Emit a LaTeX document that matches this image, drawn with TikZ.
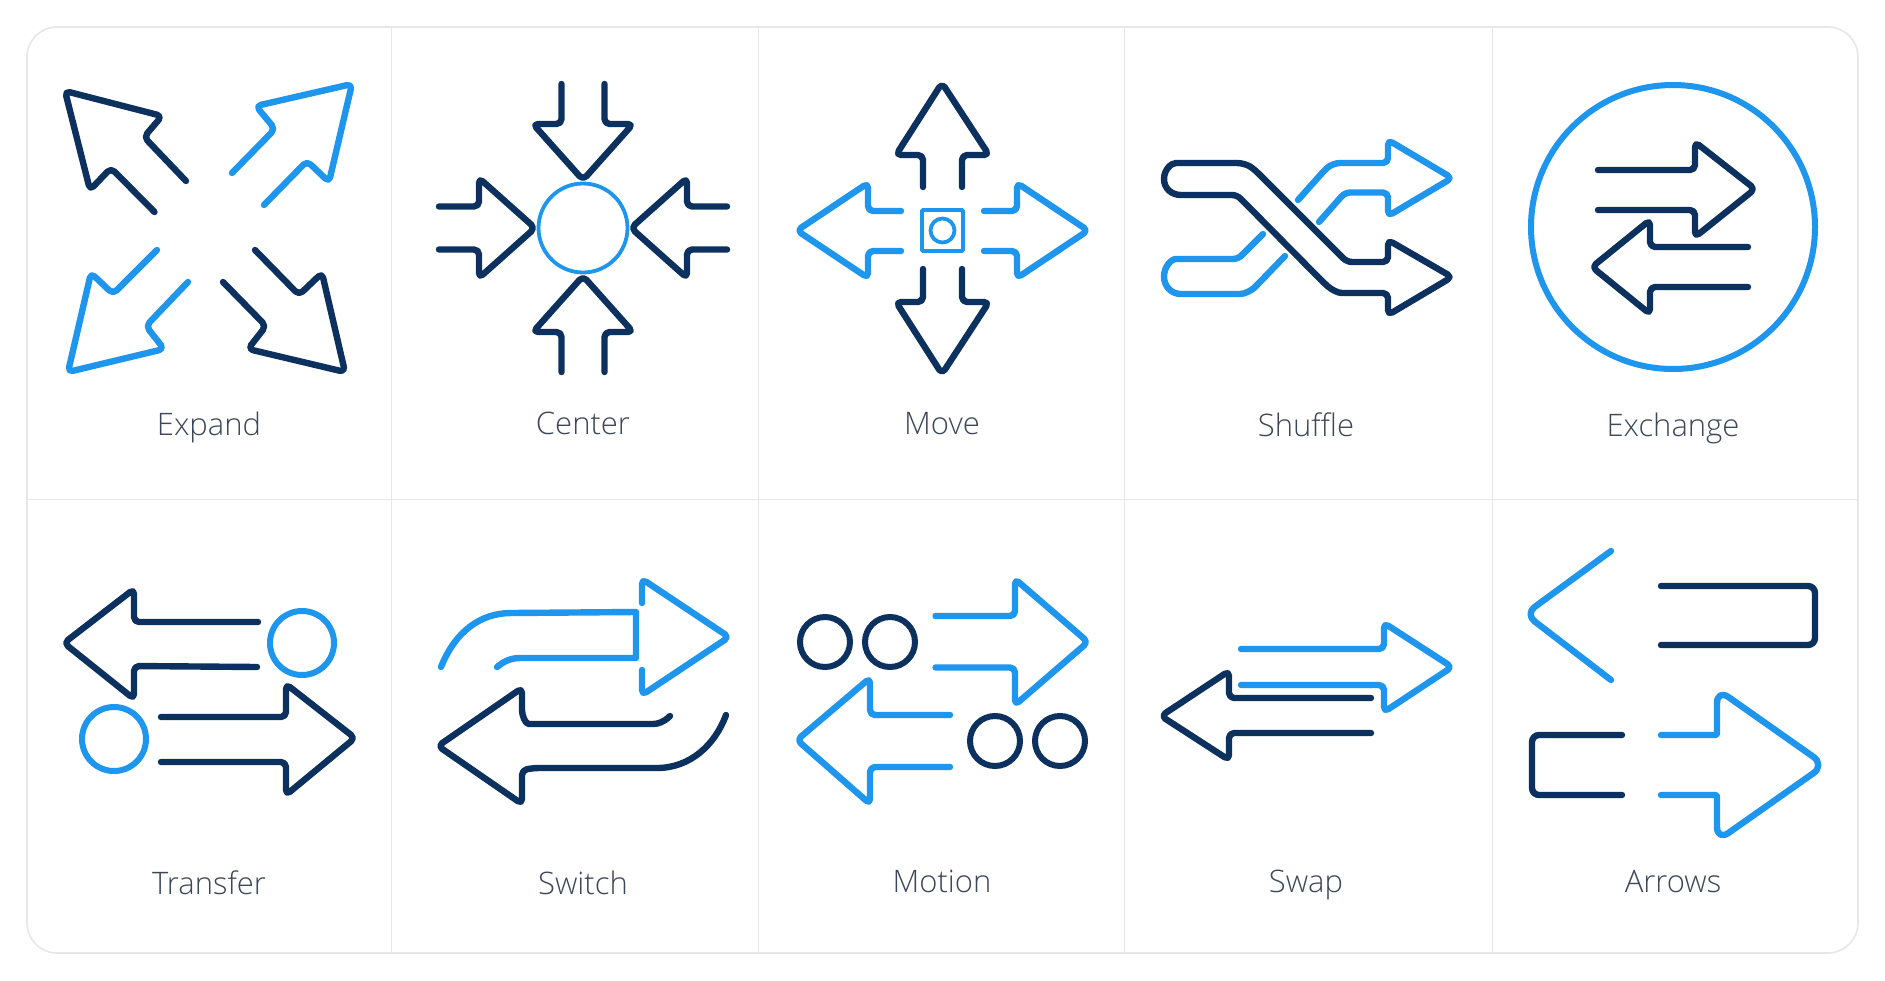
\documentclass[tikz,border=0pt]{standalone}
\usepackage{fontspec}
\setmainfont{Open Sans Light}
\definecolor{dk}{HTML}{0D315F}
\definecolor{lt}{HTML}{1F96EE}
\definecolor{rule}{HTML}{E6E7E9}
\definecolor{lab}{HTML}{3C4757}
\tikzset{
 icon/.style={line width=6.4pt,line cap=round,line join=round,rounded corners=5pt},
 dkl/.style={icon,draw=dk},
 ltl/.style={icon,draw=lt},
 thin line/.style={line width=3.8pt,draw=lt},
 lbl/.style={anchor=base,text=lab,font=\fontsize{31}{37}\selectfont,inner sep=0pt},
 frame/.style={draw=rule,line width=1.6pt,fill=white,rounded corners=30pt},
 divider/.style={draw=rule,line width=1pt}
}
\begin{document}
\begin{tikzpicture}[x=1pt,y=-1pt]
\useasboundingbox (0,0) rectangle (1885,980);
\fill[white] (0,0) rectangle (1885,980);
\draw[frame] (27,27) rectangle (1858,953);
\foreach \vx in {391,758,1124,1492} \draw[divider] (\vx,27) -- (\vx,953);
\draw[divider] (27,499) -- (1858,499);
% Expand
\draw[dkl] (186,181) -- (144,137) -- (162,116) -- (65,91) -- (90,190) -- (111,168) -- (154.5,212);
\draw[ltl] (232,173) -- (275,129) -- (256,106) -- (352,84) -- (329,182) -- (307,161) -- (264,205);
\draw[ltl] (157,250) -- (113,294) -- (91,273) -- (68,372) -- (164,349) -- (146,326) -- (188,282);
\draw[dkl] (255,250) -- (299,295) -- (322,273) -- (345,372) -- (248,349) -- (266,326) -- (223,282);
% Center
\draw[thin line] (583,228) circle[radius=44.5pt];
\foreach \a in {0,90,180,270}{
 \begin{scope}[shift={(583,228)},rotate=\a]
 \draw[dkl] (-21.5,-144) -- (-21.5,-104) -- (-50,-104) -- (0,-48) -- (50,-104) -- (21.5,-104) -- (21.5,-144);
 \end{scope}
}
% Move
\draw[dkl] (923,187) -- (923,155) -- (896,155) -- (942,83) -- (989,155) -- (962,155) -- (962,187);
\draw[dkl] (923,269) -- (923,302) -- (896,302) -- (942,374) -- (989,302) -- (962,302) -- (962,269);
\draw[ltl] (901,211) -- (868,211) -- (868,183) -- (797,230.5) -- (868,278) -- (868,251) -- (901,251);
\draw[ltl] (984,211) -- (1017,211) -- (1017,183) -- (1088,230.5) -- (1017,278) -- (1017,251) -- (984,251);
\draw[thin line,rounded corners=1pt] (922,210) rectangle (963,251);
\draw[thin line] (942.5,230.5) circle[radius=12pt];
% Shuffle
\draw[ltl] (1298,200) -- (1323,172) .. controls (1330,165) and (1336,163) .. (1345,163) -- (1388,163) -- (1388,140) -- (1452,178) -- (1388,216) -- (1388,192.5) -- (1345,192.5) -- (1319,222);
\draw[ltl] (1263,234) -- (1238,259) -- (1181,259) [sharp corners] .. controls (1171,259) and (1164,267) .. (1164,276.5) .. controls (1164,286) and (1171,294) .. (1181,294) [rounded corners=5pt] -- (1235,294) .. controls (1245,294) and (1252,290) .. (1258,284) -- (1285,256);
\draw[dkl] (1388,240) -- (1388,262) -- (1347,262) -- (1255,170) .. controls (1248,165) and (1242,163) .. (1232,163) -- (1181,163) [sharp corners] .. controls (1171,163) and (1164,170) .. (1164,179) .. controls (1164,188) and (1171,195) .. (1181,195) [rounded corners=5pt] -- (1237,195) -- (1324,283) .. controls (1332,290) and (1338,293) .. (1347,293) -- (1388,293) -- (1388,315) -- (1452,277) -- cycle;
% Exchange
\draw[draw=lt,line width=6pt] (1673,227) circle[radius=142pt];
\draw[dkl] (1598,170) -- (1695,170) -- (1695,142) -- (1755,189) -- (1695,237) -- (1695,210) -- (1598,210);
\draw[dkl] (1748,247) -- (1650,247) -- (1650,220) -- (1592,267) -- (1650,314) -- (1650,287) -- (1748,287);
% Transfer
\draw[dkl] (258,622) -- (134,622) -- (134,589) -- (64,643) -- (134,699) -- (134,666) -- (257,667);
\draw[draw=lt,line width=6pt] (302,643) circle[radius=32pt];
\draw[draw=lt,line width=6pt] (114,739) circle[radius=32pt];
\draw[dkl] (161,717) -- (286,717) -- (286,684) -- (355,738) -- (286,795) -- (286,762) -- (161,762);
% Switch
\draw[ltl,rounded corners=0pt] (441,667) .. controls (455,632) and (480,613) .. (511,613) -- (636,612) -- (636,658) -- (520,658) .. controls (510,658) and (503,662) .. (497,667);
\draw[ltl] (642,603) -- (642,579) -- (729,637) -- (642,695) -- (642,670);
\draw[dkl] (670,716) .. controls (664,722) and (658,724) .. (648,724) -- (534,724) .. controls (525,724) and (522,715) .. (522,705) -- (522,688) -- (438,746) -- (522,804) -- (522,770) -- (534,768) -- (652,768) .. controls (690,768) and (715,745) .. (726,715);
% Motion
\foreach \cx/\cy in {825/642,890/642,995/741,1060/741}
 \draw[draw=dk,line width=6pt] (\cx,\cy) circle[radius=25pt];
\draw[ltl] (935.5,616) -- (1015,616) -- (1015,579) -- (1088,642) -- (1015,705) -- (1015,667.5) -- (935.5,667.5);
\draw[ltl] (950,715) -- (870,715) -- (870,678) -- (797,740) -- (870,804) -- (870,767) -- (950,767);
% Swap
\draw[ltl] (1241,649) -- (1384,649) -- (1384,623) -- (1452,667) -- (1384,712) -- (1384,685) -- (1241,685);
\draw[dkl] (1371,698) -- (1229,698) -- (1229,671) -- (1161,716) -- (1229,760) -- (1229,733) -- (1371,733);
% Arrows
\draw[ltl,rounded corners=12pt] (1611,551) -- (1525,614) -- (1611,680);
\draw[dkl,rounded corners=7pt] (1661,586) -- (1815,586) -- (1815,645) -- (1661,645);
\draw[dkl,rounded corners=7pt] (1622,735) -- (1532,735) -- (1532,795) -- (1622,795);
\draw[ltl,rounded corners=2pt] (1661,735) -- (1717,735) [rounded corners=14pt] -- (1717,689) -- (1825,765) -- (1717,841) [rounded corners=2pt] -- (1717,795) -- (1661,795);
% Labels
\node[lbl] (l1) at (209,435) {Expand};
\node[lbl] (l2) at (583,434) {Center};
\node[lbl] (l3) at (942,434) {Move};
\node[lbl] (l4) at (1306,436) {Shuffle};
\node[lbl] (l5) at (1673,436) {Exchange};
\node[lbl] (l6) at (209,894) {Transfer};
\node[lbl] (l7) at (583,894) {Switch};
\node[lbl] (l8) at (942,892) {Motion};
\node[lbl] (l9) at (1306,892) {Swap};
\node[lbl] (l10) at (1673,892) {Arrows};
\end{tikzpicture}
\end{document}
